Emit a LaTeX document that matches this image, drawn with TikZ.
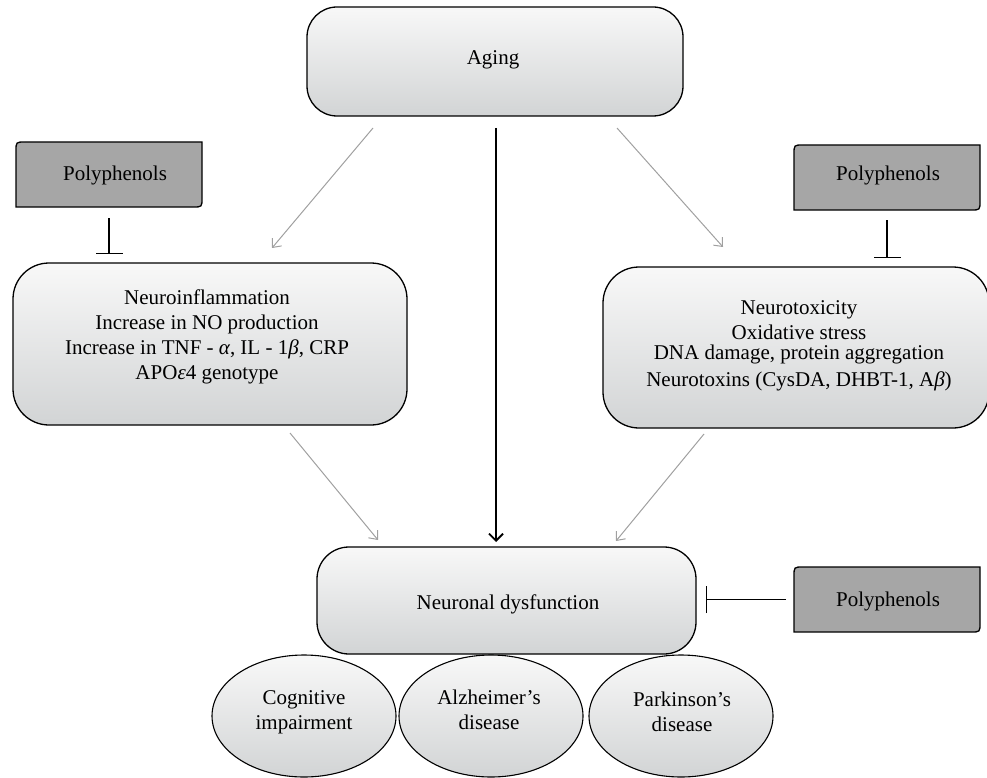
\documentclass[tikz,border=0pt]{standalone}
\usepackage{fontspec}
\setmainfont{Liberation Serif}
\usetikzlibrary{arrows.meta,shapes.geometric,calc}
\definecolor{boxtop}{HTML}{F8F8F8}
\definecolor{boxbot}{HTML}{D2D4D5}
\definecolor{polygray}{HTML}{A6A6A6}
\definecolor{arrgray}{HTML}{A0A0A0}
\newcommand{\polypath}[4]{\path[polyshape] (#1,#4) -- (#1,#2+9) .. controls (#1,#2) .. (#1+9,#2) -- (#3,#2) -- (#3,#4-9) .. controls (#3,#4) .. (#3-9,#4) -- cycle;}
\begin{document}
\begin{tikzpicture}[x=1pt,y=-1pt,
  every node/.style={font=\fontsize{21}{25}\selectfont, inner sep=0pt, outer sep=0pt},
  gbox/.style={rectangle, draw, line width=1.3pt, top color=boxtop, bottom color=boxbot},
  oval/.style={ellipse, draw, line width=1.1pt, top color=boxtop, bottom color=boxbot, minimum width=184pt, minimum height=122pt},
  polyshape/.style={draw, line width=1.3pt, fill=polygray},
  anchorbox/.style={rectangle, draw=none, fill=none, minimum width=186pt, minimum height=65pt},
  txt/.style={align=center},
  garrow/.style={draw=arrgray, line width=1pt, -{Straight Barb[length=7pt,width=12pt]}},
  barrow/.style={draw=black, line width=1.8pt, -{Straight Barb[length=7pt,width=14pt]}},
  inhib/.style={draw=black, line width=1.3pt, -{Bar[width=27pt]}},
]
\useasboundingbox (0,0) rectangle (987,778);

% main boxes
\node[gbox, rounded corners=30pt, minimum width=376pt, minimum height=109pt] (aging) at (495,61.5) {};
\node[gbox, rounded corners=36pt, minimum width=394pt, minimum height=162pt] (ni) at (210,344) {};
\node[gbox, rounded corners=36pt, minimum width=386pt, minimum height=161pt] (nt) at (796,347.5) {};
\node[gbox, rounded corners=32pt, minimum width=379pt, minimum height=107pt] (nd) at (506.5,600.5) {};

% polyphenols boxes
\polypath{16}{142}{202}{207}
\node[anchorbox] (pL) at (109,174.5) {};
\polypath{794}{145}{980}{210}
\node[anchorbox] (pR) at (887,177.5) {};
\polypath{794}{567}{980}{632}
\node[anchorbox] (pB) at (887,599.5) {};

% disease ellipses
\node[oval] (cog) at (304,716) {};
\node[oval] (alz) at (491,716) {};
\node[oval] (par) at (681,716) {};

% arrows
\draw[garrow] ([shift={(-122,12)}]aging.south) -- ([shift={(62,-15)}]ni.north);
\draw[garrow] ([shift={(122,12)}]aging.south) -- ([shift={(-73,-20)}]nt.north);
\draw[barrow] ([shift={(1,12)}]aging.south) -- ([shift={(-10.5,-5)}]nd.north);
\draw[garrow] ([shift={(80,8)}]ni.south) -- ([shift={(-128.5,-7)}]nd.north);
\draw[garrow] ([shift={(-92,6)}]nt.south) -- ([shift={(109.5,-6)}]nd.north);

% inhibitions
\draw[inhib, shorten <=11pt, shorten >=9pt] (pL.south) -- (pL.south |- ni.north);
\draw[inhib, shorten <=10pt, shorten >=9pt] (pR.south) -- (pR.south |- nt.north);
\draw[inhib, shorten <=8pt, shorten >=10pt] (pB.west) -- (pB.west -| nd.east);

% texts
\node[txt] (agingt) at (493,60) {Aging};
\node[txt] (nit) at (207,337) {Neuroinflammation\\Increase in NO production\\Increase in TNF - {\itshape α}, IL - 1{\itshape β}, CRP\\APO{\itshape ε}4 genotype};
\node[txt] (ntt) at (799,346) {Neurotoxicity\\Oxidative stress\\[-5pt]DNA damage, protein aggregation\\[2pt]Neurotoxins (CysDA, DHBT-1, A{\itshape β})};
\node[txt] (ndt) at (508,604.5) {Neuronal dysfunction};
\node[txt] (pLt) at (115,175) {Polyphenols};
\node[txt] (pRt) at (888,175) {Polyphenols};
\node[txt] (pBt) at (888,601) {Polyphenols};
\node[txt] (cogt) at (304,712) {Cognitive\\impairment};
\node[txt] (alzt) at (489,710) {Alzheimer’s\\disease};
\node[txt] (part) at (682,712) {Parkinson’s\\disease};
\end{tikzpicture}
\end{document}
